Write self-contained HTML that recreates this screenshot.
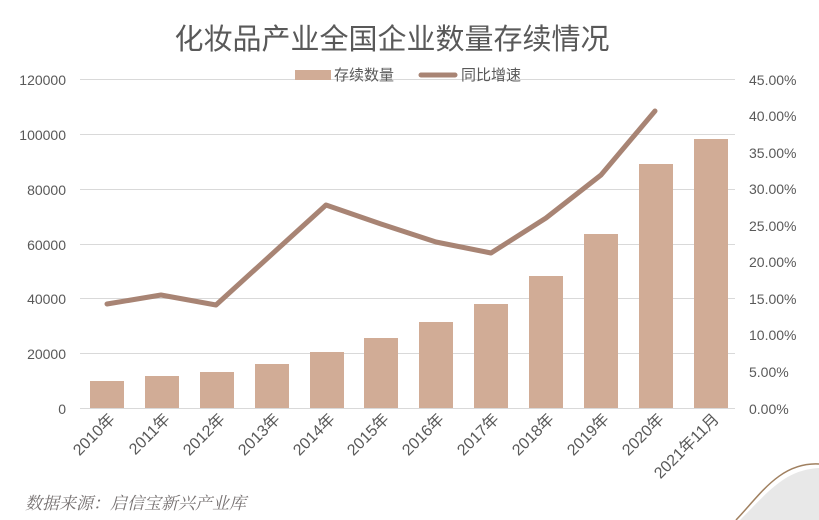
<!DOCTYPE html>
<html><head><meta charset="utf-8"><style>
body{margin:0;background:#fff;}
svg{display:block;font-family:"Liberation Sans","Noto Sans CJK SC",sans-serif;}
</style></head><body>
<svg width="819" height="520" viewBox="0 0 819 520">
<text x="392" y="49" text-anchor="middle" font-size="29" fill="#595959">化妆品产业全国企业数量存续情况</text>
<g stroke="#d9d9d9" stroke-width="1">
<line x1="80" x2="735" y1="79.5" y2="79.5"/><line x1="80" x2="735" y1="134.5" y2="134.5"/>
<line x1="80" x2="735" y1="189.5" y2="189.5"/><line x1="80" x2="735" y1="244.5" y2="244.5"/>
<line x1="80" x2="735" y1="298.5" y2="298.5"/><line x1="80" x2="735" y1="353.5" y2="353.5"/>
<line x1="80" x2="735" y1="408.5" y2="408.5"/>
</g>
<g font-size="14" fill="#595959" text-anchor="end">
<text x="66" y="85">120000</text><text x="66" y="140">100000</text><text x="66" y="195">80000</text>
<text x="66" y="250">60000</text><text x="66" y="304">40000</text><text x="66" y="359">20000</text><text x="66" y="414">0</text>
</g>
<g font-size="14" fill="#595959">
<text x="749" y="85">45.00%</text><text x="749" y="121">40.00%</text><text x="749" y="158">35.00%</text>
<text x="749" y="194">30.00%</text><text x="749" y="231">25.00%</text><text x="749" y="267">20.00%</text>
<text x="749" y="304">15.00%</text><text x="749" y="340">10.00%</text><text x="749" y="377">5.00%</text><text x="749" y="414">0.00%</text>
</g>
<g fill="#d1ac96">
<rect x="90" y="381" width="34" height="27"/>
<rect x="145" y="376" width="34" height="32"/>
<rect x="200" y="372" width="34" height="36"/>
<rect x="255" y="364" width="34" height="44"/>
<rect x="310" y="352" width="34" height="56"/>
<rect x="364" y="338" width="34" height="70"/>
<rect x="419" y="322" width="34" height="86"/>
<rect x="474" y="304" width="34" height="104"/>
<rect x="529" y="276" width="34" height="132"/>
<rect x="584" y="234" width="34" height="174"/>
<rect x="639" y="164" width="34" height="244"/>
<rect x="694" y="139" width="34" height="269"/>
</g>
<polyline fill="none" stroke="#a88474" stroke-width="5" stroke-linecap="round" stroke-linejoin="round"
points="107,304 161,295 216,305 271,255 326,205 381,224 436,242 491,253 546,218 601,175 655,111"/>
<rect x="295" y="70" width="36" height="10" fill="#d1ac96"/>
<text x="334" y="80" font-size="15" fill="#595959">存续数量</text>
<line x1="421" y1="75" x2="455" y2="75" stroke="#a88474" stroke-width="5" stroke-linecap="round"/>
<text x="461" y="80" font-size="15" fill="#595959">同比增速</text>
<g font-size="16" fill="#595959" text-anchor="end">
<text transform="translate(116,420) rotate(-45)">2010年</text>
<text transform="translate(171,420) rotate(-45)">2011年</text>
<text transform="translate(226,420) rotate(-45)">2012年</text>
<text transform="translate(281,420) rotate(-45)">2013年</text>
<text transform="translate(336,420) rotate(-45)">2014年</text>
<text transform="translate(390,420) rotate(-45)">2015年</text>
<text transform="translate(445,420) rotate(-45)">2016年</text>
<text transform="translate(500,420) rotate(-45)">2017年</text>
<text transform="translate(555,420) rotate(-45)">2018年</text>
<text transform="translate(610,420) rotate(-45)">2019年</text>
<text transform="translate(665,420) rotate(-45)">2020年</text>
<text transform="translate(720,420) rotate(-45)">2021年11月</text>
</g>
<text x="25" y="509" font-size="17" fill="#767171" font-style="italic" font-family="'Noto Serif CJK SC',serif">数据来源：启信宝新兴产业库</text>
<path d="M740,520 C770,490 785,470 819,468 L819,520 Z" fill="#e8e8e8"/>
<path d="M736,520 C760,495 780,462 819,464" fill="none" stroke="#a08060" stroke-width="1.5"/>
</svg>
</body></html>
